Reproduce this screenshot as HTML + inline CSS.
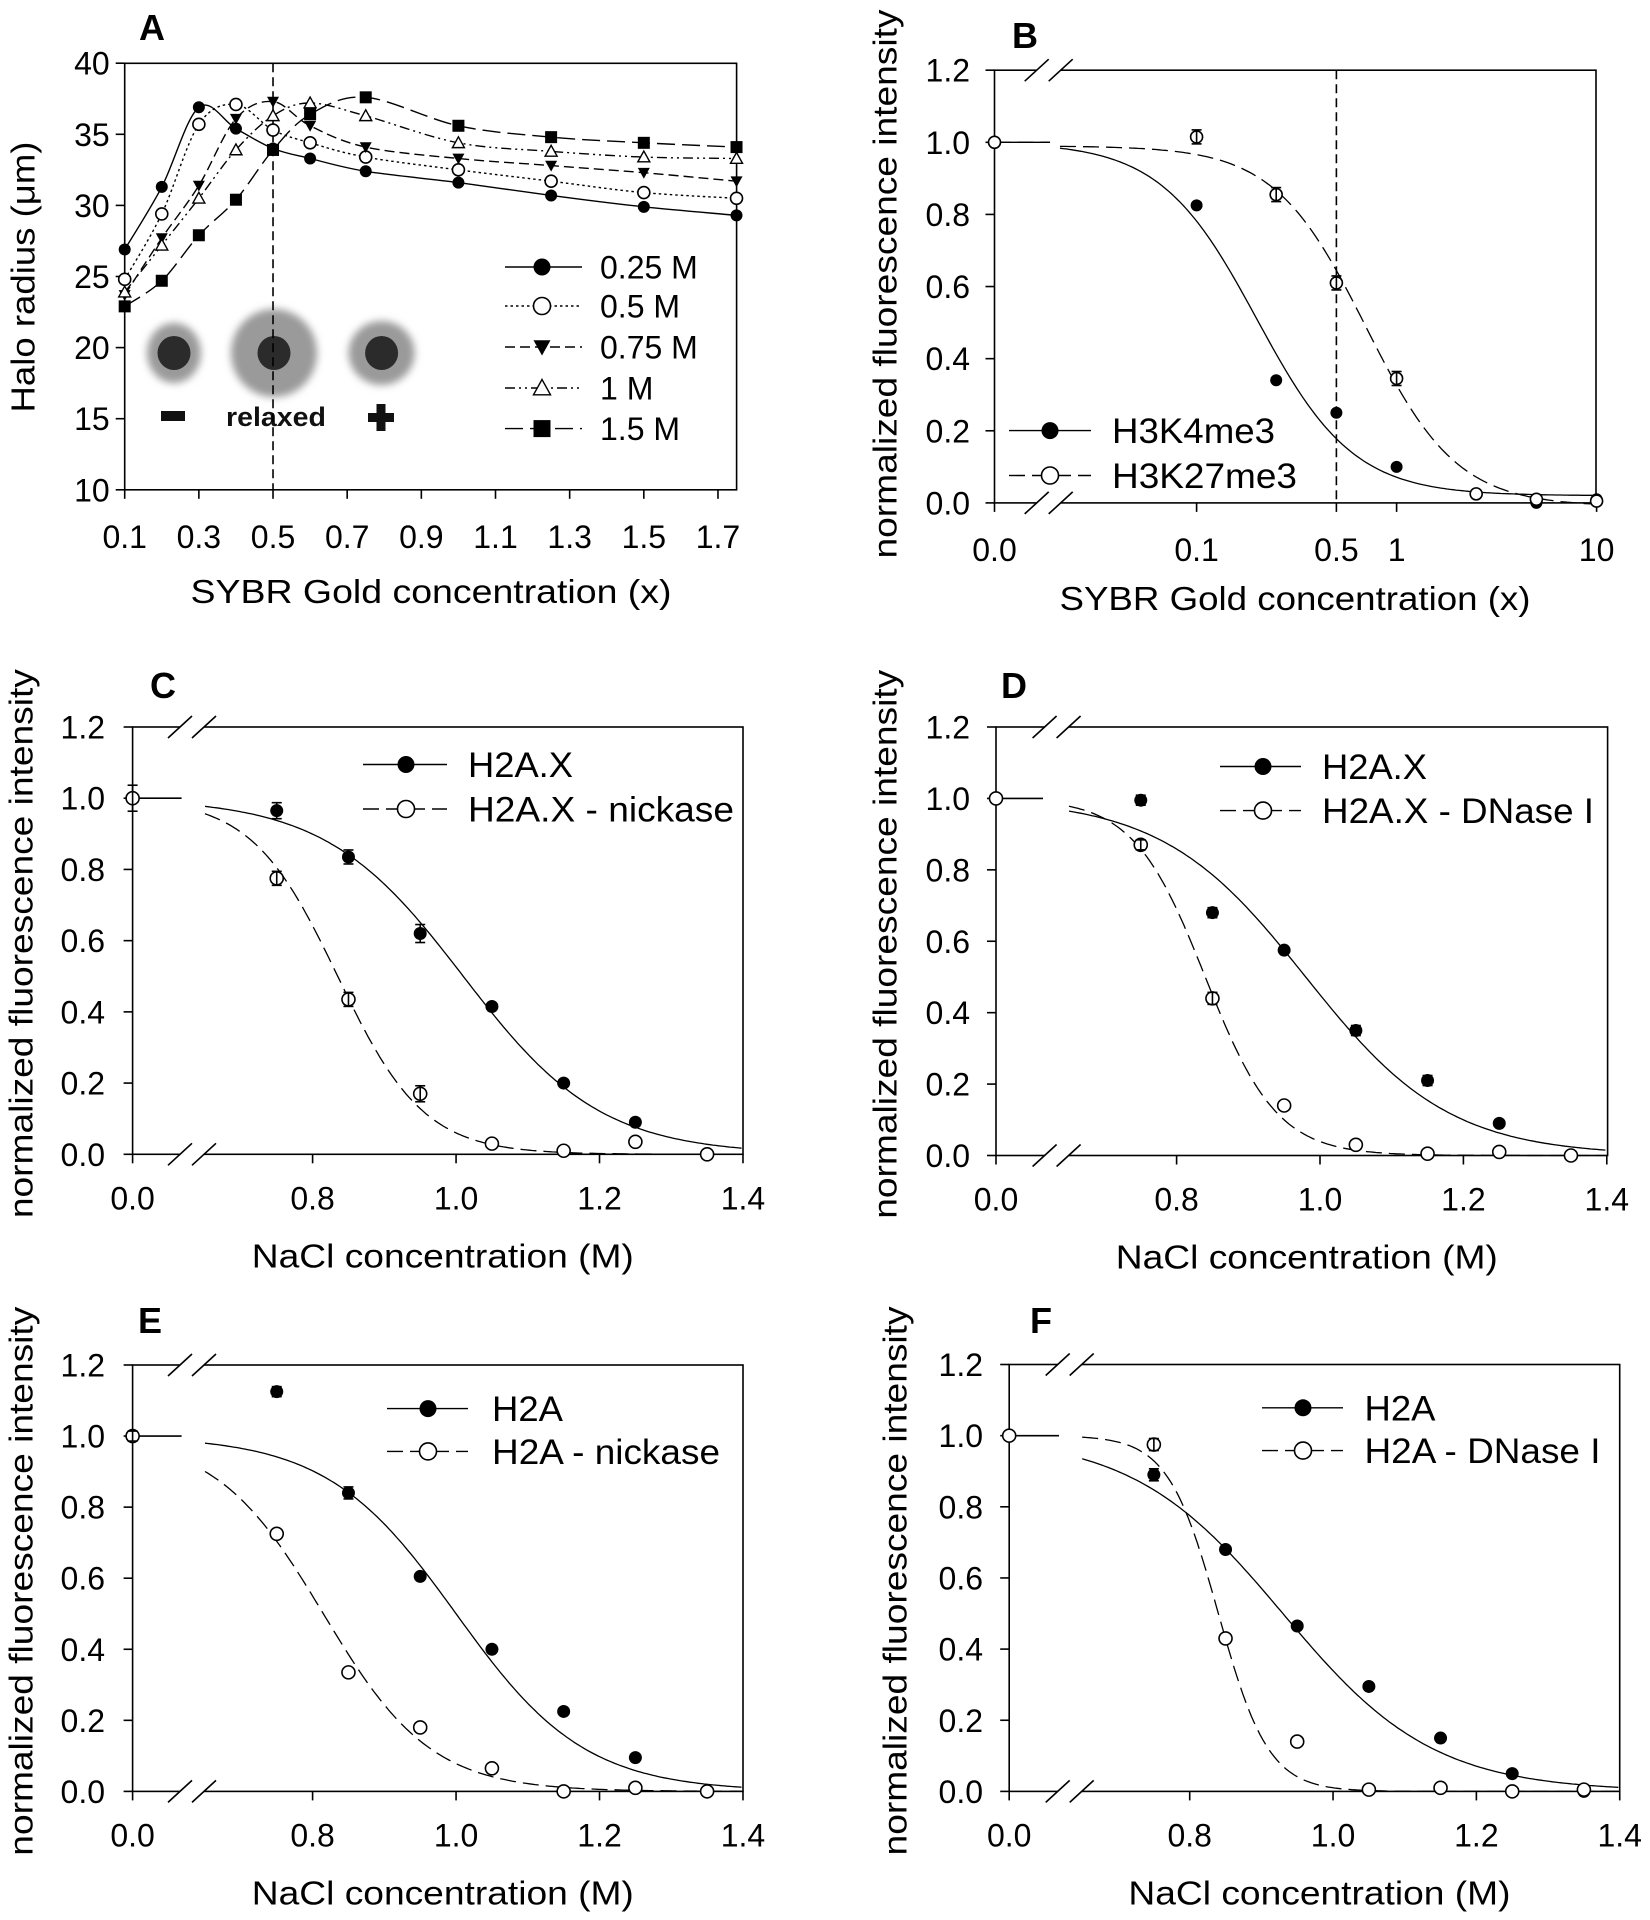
<!DOCTYPE html>
<html><head><meta charset="utf-8">
<style>html,body{margin:0;padding:0;background:#fff;width:1650px;height:1920px;overflow:hidden}svg{display:block}</style>
</head><body>
<svg id="s" xmlns="http://www.w3.org/2000/svg" width="1650" height="1920" viewBox="0 0 1650 1920" font-family="Liberation Sans, Arial, sans-serif">
<defs>
<filter id="bl" x="-50%" y="-50%" width="200%" height="200%"><feGaussianBlur stdDeviation="4"/></filter>
</defs>
<rect width="1650" height="1920" fill="#fff"/>
</svg>
<script>
var S=document.getElementById('s');var out=[];
function L(x1,y1,x2,y2,a){out.push('<line x1="'+x1+'" y1="'+y1+'" x2="'+x2+'" y2="'+y2+'" stroke="#000" stroke-width="1.6" '+(a||'')+'/>');}
function T(x,y,s,a){out.push('<text x="'+x+'" y="'+y+'" '+(a||'')+'>'+s+'</text>');}
function P(d,a){out.push('<path d="'+d+'" fill="none" stroke="#000" '+(a||'')+'/>');}
function mk(t,x,y,r){r=r||6.5;
 if(t=='fc')out.push('<circle cx="'+x+'" cy="'+y+'" r="'+r+'" fill="#000"/>');
 else if(t=='oc')out.push('<circle cx="'+x+'" cy="'+y+'" r="'+r+'" fill="#fff" stroke="#000" stroke-width="1.6"/>');
 else if(t=='dt')out.push('<path d="M'+(x-r)+' '+(y-r*0.8)+'L'+(x+r)+' '+(y-r*0.8)+'L'+x+' '+(y+r)+'Z" fill="#000"/>');
 else if(t=='ut')out.push('<path d="M'+(x-r)+' '+(y+r*0.8)+'L'+(x+r)+' '+(y+r*0.8)+'L'+x+' '+(y-r)+'Z" fill="#fff" stroke="#000" stroke-width="1.4"/>');
 else if(t=='sq')out.push('<rect x="'+(x-r)+'" y="'+(y-r)+'" width="'+(2*r)+'" height="'+(2*r)+'" fill="#000"/>');}
function smooth(pts){var d='M'+pts[0][0]+' '+pts[0][1];for(var i=0;i<pts.length-1;i++){var p0=pts[i-1]||pts[i],p1=pts[i],p2=pts[i+1],p3=pts[i+2]||p2;
 var c1x=p1[0]+(p2[0]-p0[0])/6,c1y=p1[1]+(p2[1]-p0[1])/6,c2x=p2[0]-(p3[0]-p1[0])/6,c2y=p2[1]-(p3[1]-p1[1])/6;
 d+='C'+c1x.toFixed(1)+' '+c1y.toFixed(1)+' '+c2x.toFixed(1)+' '+c2y.toFixed(1)+' '+p2[0].toFixed(1)+' '+p2[1].toFixed(1);}return d;}
var TF='font-size="32"';
function ytitle(x,y,s,len){T(0,0,s,'font-size="33" text-anchor="middle" textLength="'+len+'" lengthAdjust="spacingAndGlyphs" transform="translate('+x+','+y+') rotate(-90)" dominant-baseline="middle"');}
function xtitle(x,y,s,len){T(x,y,s,'font-size="33" text-anchor="middle" textLength="'+len+'" lengthAdjust="spacingAndGlyphs"');}
function lgt(x,y,s,len){T(x,y,s,'font-size="35" textLength="'+len+'" lengthAdjust="spacingAndGlyphs"');}
function letter(x,y,s){T(x,y,s,'font-size="36" font-weight="bold" text-anchor="middle"');}
function brk(bx,y){out.push('<rect x="'+(bx-12)+'" y="'+(y-3)+'" width="24" height="6" fill="#fff"/>');L(bx-24,y+11,bx,y-11,'stroke-width="1.3"');L(bx,y+11,bx+24,y-11,'stroke-width="1.3"');}
function eb(x,y,e){L(x,y-e,x,y+e,'stroke-width="1.3"');L(x-5,y-e,x+5,y-e,'stroke-width="1.3"');L(x-5,y+e,x+5,y+e,'stroke-width="1.3"');}

/* ---------- Panel A ---------- */
(function(){var l=124.7,r=736.6,t=63.3,b=489.8;
 var X=function(v){return l+(v-0.1)*370.8},Y=function(v){return b-(v-10)*14.22};
 [[174,353,27,30],[274,353,43,44],[381.6,353,33,32]].forEach(function(h){out.push('<ellipse cx="'+h[0]+'" cy="'+h[1]+'" rx="'+h[2]+'" ry="'+h[3]+'" fill="#9a9a9a" filter="url(#bl)"/>');out.push('<ellipse cx="'+h[0]+'" cy="'+h[1]+'" rx="16.5" ry="17" fill="#2b2b2b"/>');});
 out.push('<rect x="161" y="411" width="24" height="10" fill="#111"/>');
 out.push('<rect x="368" y="413" width="26" height="9" fill="#111"/><rect x="376.5" y="404" width="9" height="27" fill="#111"/>');
 T(276,426,'relaxed','font-size="27" font-weight="bold" text-anchor="middle" textLength="100" lengthAdjust="spacingAndGlyphs" fill="#111"');
 out.push('<rect x="'+l+'" y="'+t+'" width="'+(r-l)+'" height="'+(b-t)+'" fill="none" stroke="#000" stroke-width="1.6"/>');
 for(var v=10;v<=40;v+=5){L(l-9,Y(v),l,Y(v));T(l-15,Y(v)+11.5,v,TF+' text-anchor="end"');}
 for(var i=0;i<9;i++){var xv=0.1+0.2*i;L(X(xv),b,X(xv),b+9);T(X(xv),548,xv.toFixed(1),TF+' text-anchor="middle"');}
 L(X(0.5),t,X(0.5),b,'stroke-dasharray="9,5"');
 var xs=[0.1,0.2,0.3,0.4,0.5,0.6,0.75,1.0,1.25,1.5,1.75];
 var S=[
  ['fc','',[26.9,31.3,36.9,35.4,34.0,33.3,32.4,31.6,30.7,29.9,29.3],'0.25 M'],
  ['oc','stroke-dasharray="2.5,3" stroke-width="3"',[24.8,29.4,35.7,37.1,35.3,34.4,33.4,32.5,31.7,30.9,30.5],'0.5 M'],
  ['dt','stroke-dasharray="10,5"',[23.7,27.7,31.4,36.1,37.3,35.6,34.1,33.3,32.8,32.3,31.7],'0.75 M'],
  ['ut','stroke-dasharray="10,4,2,4,2,4"',[23.9,27.2,30.5,33.9,36.3,37.2,36.3,34.4,33.8,33.4,33.3],'1 M'],
  ['sq','stroke-dasharray="18,7"',[22.9,24.7,27.9,30.4,33.9,36.4,37.6,35.6,34.8,34.4,34.1],'1.5 M']];
 var ly=[267,306,347,388,428.6];
 S.forEach(function(s,k){var pts=xs.map(function(x,i){return [X(x),Y(s[2][i])]});
  P(smooth(pts),'stroke-width="1.4" '+s[1]);});
 S.forEach(function(s,k){xs.forEach(function(x,i){mk(s[0],X(x),Y(s[2][i]),6)});
  P('M505 '+ly[k]+'L582 '+ly[k],'stroke-width="1.4" '+s[1]);mk(s[0],542,ly[k],8.5);
  T(600,ly[k]+11.5,s[3],'font-size="32"');});
 letter(152,40,'A');
 ytitle(26,277,'Halo radius (μm)',271);
 xtitle(431,603,'SYBR Gold concentration (x)',481);
})();

/* ---------- Panel B ---------- */
(function(){var l=994.5,r=1596,t=70.2,b=502.9;
 var X=function(c){return c===0?l:1396.6+200*Math.log10(c)},Y=function(v){return b-v*360.6};
 out.push('<rect x="'+l+'" y="'+t+'" width="'+(r-l)+'" height="'+(b-t)+'" fill="none" stroke="#000" stroke-width="1.6"/>');
 brk(1048.7,t);brk(1048.7,b);
 for(var i=0;i<=6;i++){var v=i*0.2;L(l-9,Y(v),l,Y(v));T(970,Y(v)+11.5,v.toFixed(1),TF+' text-anchor="end"');}
 [[0,'0.0'],[0.1,'0.1'],[0.5,'0.5'],[1,'1'],[10,'10']].forEach(function(k){L(X(k[0]),b,X(k[0]),b+9);T(X(k[0]),561,k[1],TF+' text-anchor="middle"');});
 L(X(0.5),t,X(0.5),b,'stroke-dasharray="9,5"');
 function hill(c,c50,n,bb){return bb+(1-bb)/(1+Math.pow(c/c50,n));}
 function curve(f,dash){var d='M'+l+' '+Y(1.0).toFixed(1)+'L1050 '+Y(1.0).toFixed(1);var st=true;
  for(var x=1060;x<=r;x+=3){var c=Math.pow(10,(x-1396.6)/200);var y=Math.max(f(c),-0.01);d+=(st?'M':'L')+x+' '+Y(y).toFixed(1);st=false;}
  P(d,'stroke-width="1.3" '+dash);}
 curve(function(c){return hill(c,0.2,1.8,0.02)},'');
 curve(function(c){return hill(c,0.7,1.9,0)-0.01},'stroke-dasharray="16,7"');
 var xs=[0,0.1,0.25,0.5,1,2.5,5,10];
 var f=[1.0,0.825,0.34,0.25,0.10,0.025,0.0,0.01],o=[1.0,1.015,0.855,0.61,0.345,0.025,0.01,0.005];
 xs.forEach(function(c,i){mk('fc',X(c),Y(f[i]),6);});
 xs.forEach(function(c,i){mk('oc',X(c),Y(o[i]),6);if(i>0&&i<5)eb(X(c),Y(o[i]),7);});
 P('M1009 430.6L1091 430.6','stroke-width="1.4"');mk('fc',1050,430.6,8.5);lgt(1112,443,'H3K4me3',163);
 P('M1009 475.5L1091 475.5','stroke-width="1.4" stroke-dasharray="16,7"');mk('oc',1050,475.5,8.5);lgt(1112,488,'H3K27me3',185);
 letter(1025,48,'B');
 ytitle(888,284,'normalized fluorescence intensity',549);
 xtitle(1295,610,'SYBR Gold concentration (x)',471);
})();

/* ---------- NaCl panels ---------- */
function nacl(p){var l=p.l,r=p.r,t=p.t,b=p.b;
 var X=function(v){return v===0?l:p.x8+(v-0.8)*p.u},Y=function(v){return b-v*(b-t)/1.2};
 out.push('<rect x="'+l+'" y="'+t+'" width="'+(r-l)+'" height="'+(b-t)+'" fill="none" stroke="#000" stroke-width="1.6"/>');
 brk(p.bx,t);brk(p.bx,b);
 for(var i=0;i<=6;i++){var v=i*0.2;L(l-9,Y(v),l,Y(v));T(p.tr,Y(v)+11.5,v.toFixed(1),TF+' text-anchor="end"');}
 [0,0.8,1.0,1.2,1.4].forEach(function(v){L(X(v),b,X(v),b+9);T(X(v),b+55,v.toFixed(1),TF+' text-anchor="middle"');});
 L(l,Y(1),p.fl,Y(1),'stroke-width="1.3"');
 function curve(x0,s,dash){var d='';var st=true;for(var v=0.65;v<=1.4001;v+=0.004){var y=1/(1+Math.exp((v-x0)/s));d+=(st?'M':'L')+X(v).toFixed(1)+' '+Y(y).toFixed(1);st=false;}P(d,'stroke-width="1.3" '+dash);}
 curve(p.c1[0],p.c1[1],'');curve(p.c2[0],p.c2[1],'stroke-dasharray="16,7"');
 var xs=[0.75,0.85,0.95,1.05,1.15,1.25,1.35];
 p.f.forEach(function(v,i){mk('fc',X(xs[i]),Y(v),6.5);});
 mk('oc',l,Y(1),6.5);if(p.e0)eb(l,Y(1),p.e0);
 p.o.forEach(function(v,i){mk('oc',X(xs[i]),Y(v),6.5);if(p.eo&&p.eo[i])eb(X(xs[i]),Y(v),p.eo[i]);});
 if(p.ef)p.f.forEach(function(v,i){if(p.ef[i])eb(X(xs[i]),Y(v),p.ef[i]);});
 P('M'+p.lg[0]+' '+p.ly[0]+'L'+p.lg[1]+' '+p.ly[0],'stroke-width="1.4"');mk('fc',p.lg[2],p.ly[0],8.5);lgt(p.lg[3],p.ly[0]+12.5,p.n1,p.w1);
 P('M'+p.lg[0]+' '+p.ly[1]+'L'+p.lg[1]+' '+p.ly[1],'stroke-width="1.4" stroke-dasharray="16,7"');mk('oc',p.lg[2],p.ly[1],8.5);lgt(p.lg[3],p.ly[1]+12.5,p.n2,p.w2);
 letter(p.L[0],p.L[1],p.L[2]);
 ytitle(p.yt,(t+b)/2+3,'normalized fluorescence intensity',549);
 xtitle((l+r)/2+5,b+113,'NaCl concentration (M)',382);
}
nacl({l:132.6,r:743,t:727,b:1154.3,x8:312.6,u:717.3,bx:192,tr:105,fl:181.6,
 c1:[1.01,0.096],c2:[0.835,0.06],
 f:[0.965,0.835,0.62,0.415,0.2,0.09],o:[0.775,0.435,0.17,0.03,0.01,0.035,0.0],
 e0:13,eo:[7,7,8,0,0,0,0],ef:[8,7,9,0,0,0],
 lg:[363,447,406,468],ly:[764.5,809],n1:'H2A.X',n2:'H2A.X - nickase',w1:105,w2:266,L:[163,698,'C'],yt:24});
nacl({l:996,r:1607.6,t:727,b:1155.5,x8:1176.6,u:717,bx:1056.6,tr:970,fl:1043,
 c1:[0.98,0.1],c2:[0.84,0.05],
 f:[0.995,0.68,0.575,0.35,0.21,0.09],o:[0.87,0.44,0.14,0.03,0.005,0.01,0.0],
 eo:[5,6,0,0,0,0,0],ef:[5,5,0,5,5,0],
 lg:[1220,1301,1263,1322],ly:[766.5,810.6],n1:'H2A.X',n2:'H2A.X - DNase I',w1:105,w2:272,L:[1014,698,'D'],yt:888});
nacl({l:132.6,r:743,t:1365,b:1791.4,x8:312.6,u:717.3,bx:192,tr:105,fl:181.6,
 c1:[1.0,0.09],c2:[0.815,0.075],
 f:[1.125,0.84,0.605,0.40,0.225,0.095],o:[0.725,0.335,0.18,0.065,0.0,0.01,0.0],
 ef:[5,6,0,0,0,0],e0:5,
 lg:[387,468,428,492],ly:[1408.6,1451.4],n1:'H2A',n2:'H2A - nickase',w1:71,w2:228,L:[150,1333,'E'],yt:24});
nacl({l:1009.2,r:1619.7,t:1364.5,b:1791.4,x8:1189.7,u:716.7,bx:1069.7,tr:983,fl:1059,
 c1:[0.93,0.105],c2:[0.84,0.035],
 f:[0.89,0.68,0.465,0.295,0.15,0.05,0.0],o:[0.975,0.43,0.14,0.005,0.01,0.0,0.005],
 eo:[6,0,0,0,0,0,0],ef:[6,0,0,0,0,0,0],
 lg:[1262,1343,1303,1364.5],ly:[1407.8,1450.6],n1:'H2A',n2:'H2A - DNase I',w1:71,w2:236,L:[1041,1333,'F'],yt:898});
S.insertAdjacentHTML('beforeend',out.join(''));
</script>
</body></html>
